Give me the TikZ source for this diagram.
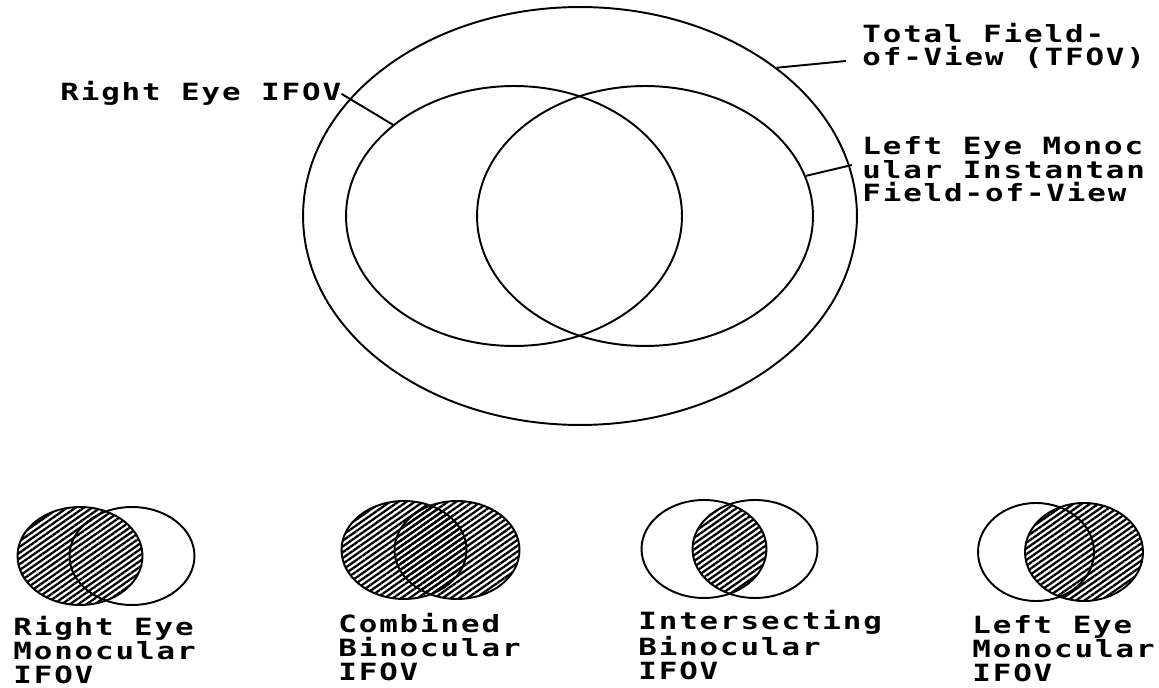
\documentclass[tikz,border=0pt]{standalone}
\usepackage{fontspec}
\newfontfamily\plotfont[FakeStretch=1.3,LetterSpace=8]{DejaVu Sans Mono}
\usetikzlibrary{shapes.geometric,patterns.meta}

\begin{document}
\begin{tikzpicture}[x=0.02cm, y=-0.02cm,
    fov/.style={ellipse, draw, line width=1.1pt, inner sep=0pt},
    big/.style={fov, minimum width=6.72cm, minimum height=5.2cm},
    small/.style={fov, minimum width=2.5cm, minimum height=1.96cm},
    hatch/.style={pattern={Lines[angle=35, distance=2.7pt, line width=1.3pt]}},
    lbl/.style={font={\plotfont\bfseries\fontsize{13.5}{13.4}\selectfont}, align=left, inner sep=0pt, anchor=base west},
    line/.style={draw, line width=1.1pt}]

    \path[fill=white] (0,0) rectangle (1159,688);

    % Top: total field of view with both eyes
    \node [fov, minimum width=11.08cm, minimum height=8.36cm] (tfov) at (580,216) {};
    \node [big] (reye) at (514,216) {};
    \node [big] (leye) at (645,216) {};

    % labels sit on the baseline of their last line
    \node [lbl] (rlab) at (60,101) {Right Eye IFOV};
    \node [lbl] (tlab) at (862,66) {Total Field-\\of-View (TFOV)};
    \node [lbl] (llab) at (862,202) {Left Eye Monoc\\ular Instantan\\Field-of-View};
    \coordinate (tend) at (846,61);
    \coordinate (lend) at (852,165);

    \draw [line] (rlab.east) -- (reye.143);
    \draw [line] (tfov.37) -- (tend);
    \draw [line] (leye.14) -- (lend);

    % Bottom row: the four IFOV cases
    \node [small, hatch] (ma) at (80,556) {};
    \node [small] (mb) at (132,556) {};
    \node [lbl] (mlab) at (13,683) {Right Eye\\Monocular\\IFOV};

    \node [small, hatch] (ca) at (404,550) {};
    \node [small, hatch] (cb) at (457,550) {};
    \node [lbl] (clab) at (338,680) {Combined\\Binocular\\IFOV};

    \node [small] (ia) at (704,549) {};
    \node [small] (ib) at (755,549) {};
    \begin{scope}
        \clip (ia.center) ellipse [x radius=62, y radius=49];
        \fill [hatch] (ib.center) ellipse [x radius=62, y radius=49];
    \end{scope}
    \node [lbl] (ilab) at (638,679) {Intersecting\\Binocular\\IFOV};

    \node [small, minimum width=2.32cm] (na) at (1036,552) {};
    \node [small, hatch, minimum width=2.36cm] (nb) at (1084,552) {};
    \node [lbl] (nlab) at (972,681) {Left Eye\\Monocular\\IFOV};
\end{tikzpicture}
\end{document}
